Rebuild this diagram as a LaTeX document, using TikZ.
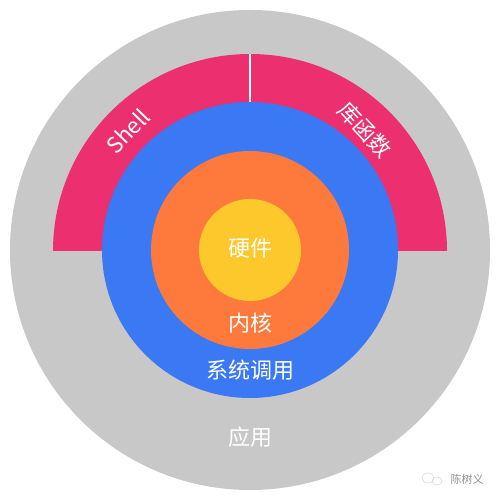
\documentclass[tikz,border=0pt]{standalone}
\usepackage{fontspec}
\newfontfamily\cjk{Noto Sans CJK SC}
\definecolor{cgray}{HTML}{C8C8C8}
\definecolor{cpink}{HTML}{EC2F6F}
\definecolor{cblue}{HTML}{3A78F4}
\definecolor{corange}{HTML}{FD7A3C}
\definecolor{cyellow}{HTML}{FDC82B}
\begin{document}
\begin{tikzpicture}[x=1pt,y=1pt,
  lbl/.style={text=white,font=\cjk\fontsize{22}{26}\selectfont,inner sep=0pt},
  wm/.style={text=gray!85,font=\cjk\fontsize{11}{13}\selectfont,inner sep=0pt}]
\useasboundingbox[fill=white] (0,0) rectangle (500,500);
\coordinate (c) at (250,250);
\fill[cgray] (c) circle[radius=240];
\fill[cpink] (250+197,249) arc[start angle=0,end angle=180,radius=197] -- cycle;
\draw[white,line width=1.2pt] (250,249+197) -- (250,249+140);
\fill[cblue] (c) circle[radius=148];
\fill[corange] (c) circle[radius=99];
\fill[cyellow] (c) circle[radius=51];
\node[lbl] (hw) at (250,252) {硬件};
\node[lbl] (kern) at (250,177) {内核};
\node[lbl] (sys) at (250,130) {系统调用};
\node[lbl] (app) at (250,63) {应用};
\node[lbl,rotate=46] (shell) at (128,369) {Shell};
\node[lbl,rotate=-47] (lib) at (365,370) {库函数};
\node[wm] (wmt) at (467,21) {陈树义};
\draw[gray!30,line width=0.6pt] (428,22) ellipse[x radius=6,y radius=5];
\draw[gray!30,line width=0.6pt] (437,19) ellipse[x radius=5,y radius=4];
\end{tikzpicture}
\end{document}
